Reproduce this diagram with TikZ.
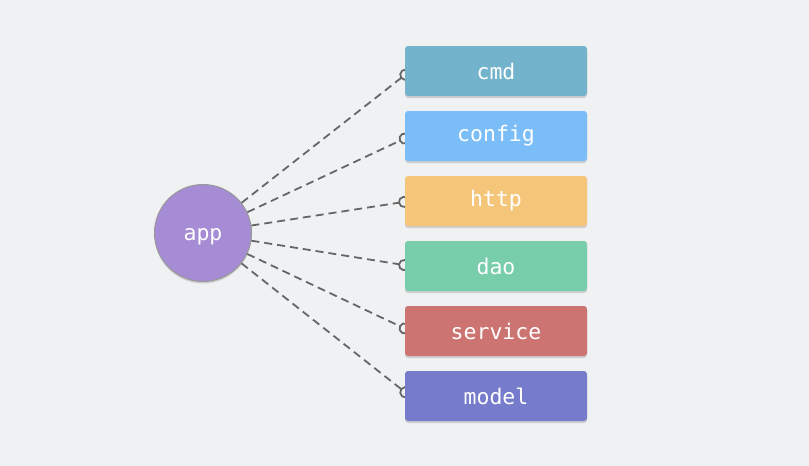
\documentclass[tikz,border=0pt]{standalone}
\usepackage{fontspec}
\setmonofont{DejaVu Sans Mono}
\usetikzlibrary{arrows.meta,shadows}
\definecolor{bg}{HTML}{F0F1F3}
\definecolor{ccmd}{HTML}{74B3CC}
\definecolor{cconfig}{HTML}{7BBDF7}
\definecolor{chttp}{HTML}{F5C67A}
\definecolor{cdao}{HTML}{78CDAB}
\definecolor{cservice}{HTML}{CC7472}
\definecolor{cmodel}{HTML}{767BCC}
\definecolor{capp}{HTML}{A68BD5}
\definecolor{lgray}{HTML}{666666}
\tikzset{
  modbox/.style={rectangle, rounded corners=3pt, minimum width=182pt, minimum height=50pt,
    inner sep=0pt, text=white, font=\ttfamily\fontsize{21.5}{21.5}\selectfont,
    drop shadow={shadow xshift=0pt, shadow yshift=-2pt, opacity=0.3}},
  link/.style={draw=lgray, line width=1.8pt, dash pattern=on 8pt off 5pt,
    -{Circle[open, length=12pt, width=12pt, line width=1.8pt]}},
}
\begin{document}
\begin{tikzpicture}[x=1pt,y=-1pt]
\fill[bg] (0,0) rectangle (809,466);
\useasboundingbox (0,0) rectangle (809,466);
\node[circle, minimum size=97pt, inner sep=0pt, fill=capp, draw=black!40, line width=1pt,
  text=white, font=\ttfamily\fontsize{21.5}{21.5}\selectfont,
  drop shadow={shadow xshift=0pt, shadow yshift=-2pt, opacity=0.3}] (app) at (203,233) {\raisebox{-7.5pt}[0pt][0pt]{app}};
\coordinate (p1) at (410,71);
\coordinate (p2) at (410,136);
\coordinate (p3) at (410,201);
\coordinate (p4) at (410,266);
\coordinate (p5) at (410,331);
\coordinate (p6) at (410,396);
\foreach \p in {p1,p2,p3,p4,p5,p6} \draw[link] (app) -- (\p);
\node[modbox, fill=ccmd] (cmd) at (496,71) {cmd};
\node[modbox, fill=cconfig] (config) at (496,136) {config};
\node[modbox, fill=chttp] (http) at (496,201) {http};
\node[modbox, fill=cdao] (dao) at (496,266) {dao};
\node[modbox, fill=cservice] (service) at (496,331) {service};
\node[modbox, fill=cmodel] (model) at (496,396) {model};
\end{tikzpicture}
\end{document}
